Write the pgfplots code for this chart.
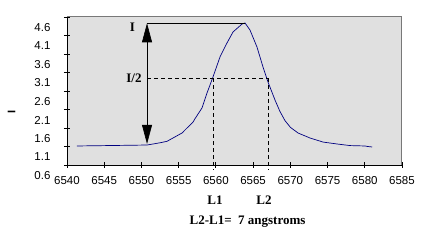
\documentclass[border=0pt]{standalone}
\usepackage{fontspec}
\setmainfont{Liberation Sans}
\newfontfamily\tnr{Liberation Serif}
\usepackage{pgfplots}
\pgfplotsset{compat=1.18}
\usetikzlibrary{arrows.meta}
\definecolor{bg}{RGB}{224,224,224}
\definecolor{navy}{RGB}{0,0,128}
\definecolor{frame}{RGB}{120,120,120}
\begin{document}
\begin{tikzpicture}
\begin{axis}[
  at={(0,0)}, anchor=south west,
  scale only axis, width=335pt, height=148pt,
  xmin=6540, xmax=6585, ymin=0.6, ymax=4.6,
  axis x line*=bottom, axis y line*=left,
  axis line style={black, line width=0.8pt, -},
  axis background/.style={fill=bg},
  xtick={6540,6545,6550,6555,6560,6565,6570,6575,6580,6585},
  ytick={0.6,1.1,1.6,2.1,2.6,3.1,3.6,4.1,4.6},
  tick align=center, major tick length=6pt,
  tick style={black, line width=0.8pt},
  /pgf/number format/assume math mode=true,
  xticklabel style={font=\fontsize{11.5}{13}\selectfont, yshift=-5pt, /pgf/number format/.cd, set thousands separator={}, fixed},
  yticklabel style={font=\fontsize{11.5}{13}\selectfont, yshift=-10.5pt, xshift=-10pt, /pgf/number format/.cd, fixed, precision=1, fixed zerofill},
  clip=false,
]
\addplot[navy, line width=0.7pt] coordinates {
(6541.34,1.114) (6546.18,1.127) (6550.75,1.14) (6552.49,1.20) (6553.43,1.24)
(6554.24,1.33) (6555.45,1.465) (6556.12,1.60) (6556.93,1.76) (6557.19,1.85)
(6558.13,2.14) (6558.81,2.546) (6559.61,2.978) (6560.55,3.519) (6561.49,3.897)
(6562.30,4.195) (6563.51,4.41) (6563.91,4.438) (6564.58,4.249) (6565.52,3.789)
(6566.33,3.249) (6567.0,2.843) (6567.94,2.357) (6568.6,2.05) (6569.28,1.80)
(6570.0,1.62) (6571.03,1.465) (6572.64,1.33) (6574.39,1.22) (6576.27,1.168)
(6578.01,1.125) (6580.03,1.114) (6580.4,1.10) (6581.0,1.087)
};
\draw[frame, line width=1pt] (rel axis cs:0,1) -- (rel axis cs:1,1) -- (rel axis cs:1,0);
\draw[black, line width=0.6pt, {Triangle[width=10pt,length=19pt]}-{Triangle[width=10pt,length=19pt]}]
  (axis cs:6550.75,1.17) -- (axis cs:6550.75,4.43);
\draw[black, line width=0.6pt] (axis cs:6550.75,4.43) -- (axis cs:6563.9,4.43);
\draw[black, line width=0.6pt, dash pattern=on 4pt off 3pt] (axis cs:6550.75,2.951) -- (axis cs:6567.0,2.951);
\draw[black, line width=0.6pt, dash pattern=on 4pt off 3pt] (axis cs:6559.61,2.951) -- (axis cs:6559.61,0.465);
\draw[black, line width=0.6pt, dash pattern=on 4pt off 3pt] (axis cs:6567.0,2.951) -- (axis cs:6567.0,0.465);
\node[font=\tnr\bfseries\fontsize{13}{15}\selectfont, anchor=base, inner sep=0pt] at (axis cs:6548.8,4.203) {I};
\node[font=\tnr\bfseries\fontsize{13}{15}\selectfont, anchor=base, inner sep=0pt] at (axis cs:6549.0,2.835) {I/2};
\node[font=\tnr\bfseries\fontsize{13}{15}\selectfont, anchor=base, inner sep=0pt] at ([yshift=-40pt]axis cs:6559.88,0.6) {L1};
\node[font=\tnr\bfseries\fontsize{13}{15}\selectfont, anchor=base, inner sep=0pt] at ([yshift=-40pt]axis cs:6566.46,0.6) {L2};
\node[font=\tnr\bfseries\fontsize{13}{15}\selectfont, anchor=base, inner sep=0pt] at ([yshift=-60pt]axis cs:6564.25,0.6) {L2-L1=\ \ 7 angstroms};
\end{axis}
\node[rotate=90, inner sep=0pt, font=\bfseries\fontsize{11}{13}\selectfont] at (-55.5pt,53pt) {I};
\pgfresetboundingbox
\path (-67pt,-75pt) rectangle (380pt,165pt);
\end{tikzpicture}
\end{document}
